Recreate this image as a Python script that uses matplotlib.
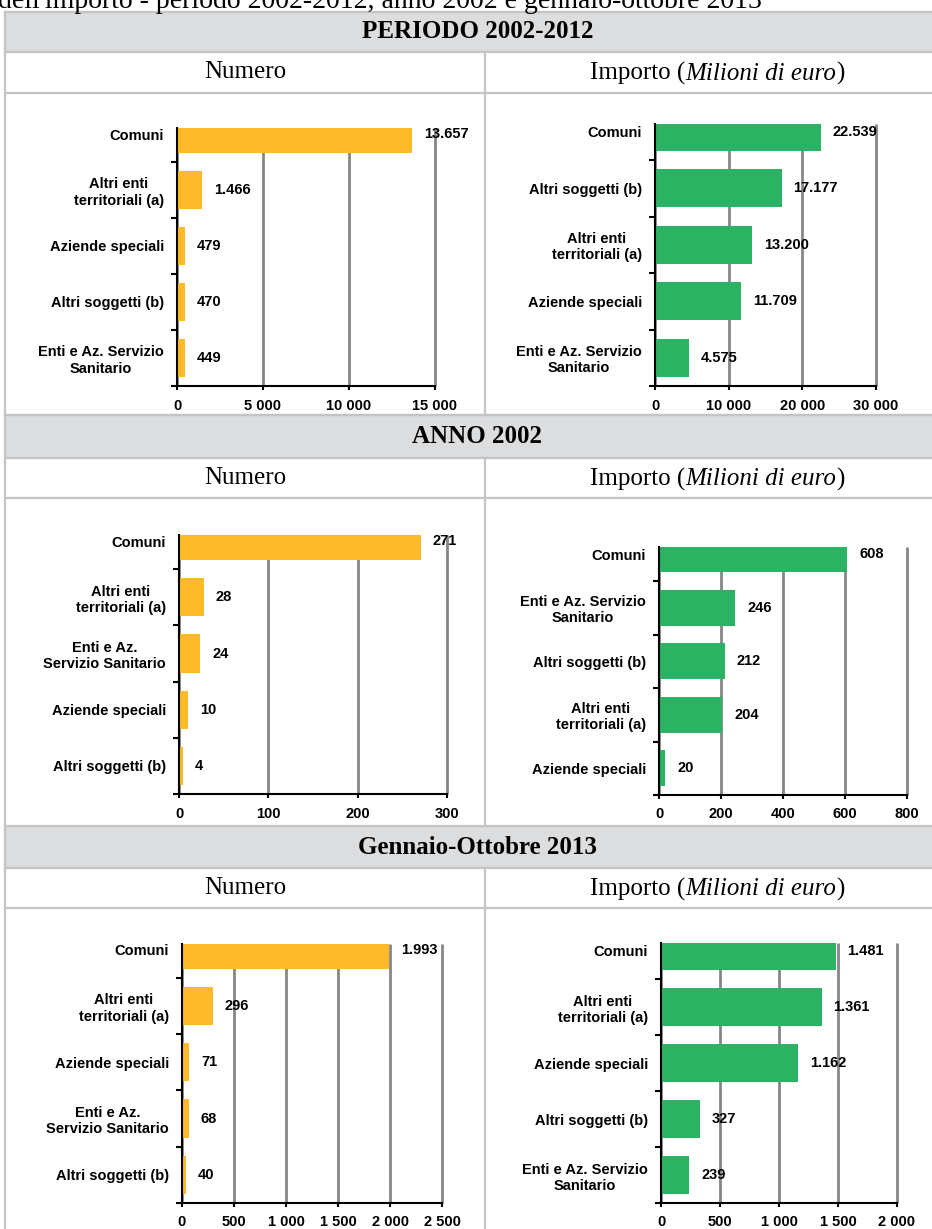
import matplotlib
matplotlib.use("Agg")
import matplotlib.pyplot as plt
from matplotlib.offsetbox import TextArea, HPacker, AnnotationBbox

# --- data -------------------------------------------------------------
periodo_num_cat = ["Comuni", "Altri enti\nterritoriali (a)", "Aziende speciali",
                   "Altri soggetti (b)", "Enti e Az. Servizio\nSanitario"]
periodo_num = [13657, 1466, 479, 470, 449]
periodo_num_ticks = [0, 5000, 10000, 15000]

periodo_imp_cat = ["Comuni", "Altri soggetti (b)", "Altri enti\nterritoriali (a)",
                   "Aziende speciali", "Enti e Az. Servizio\nSanitario"]
periodo_imp = [22539, 17177, 13200, 11709, 4575]
periodo_imp_ticks = [0, 10000, 20000, 30000]

anno_num_cat = ["Comuni", "Altri enti\nterritoriali (a)", "Enti e Az.\nServizio Sanitario",
                "Aziende speciali", "Altri soggetti (b)"]
anno_num = [271, 28, 24, 10, 4]
anno_num_ticks = [0, 100, 200, 300]

anno_imp_cat = ["Comuni", "Enti e Az. Servizio\nSanitario", "Altri soggetti (b)",
                "Altri enti\nterritoriali (a)", "Aziende speciali"]
anno_imp = [608, 246, 212, 204, 20]
anno_imp_ticks = [0, 200, 400, 600, 800]

ott_num_cat = ["Comuni", "Altri enti\nterritoriali (a)", "Aziende speciali",
               "Enti e Az.\nServizio Sanitario", "Altri soggetti (b)"]
ott_num = [1993, 296, 71, 68, 40]
ott_num_ticks = [0, 500, 1000, 1500, 2000, 2500]

ott_imp_cat = ["Comuni", "Altri enti\nterritoriali (a)", "Aziende speciali",
               "Altri soggetti (b)", "Enti e Az. Servizio\nSanitario"]
ott_imp = [1481, 1361, 1162, 327, 239]
ott_imp_ticks = [0, 500, 1000, 1500, 2000]

section_titles = ["PERIODO 2002-2012", "ANNO 2002", "Gennaio-Ottobre 2013"]

# --- style ------------------------------------------------------------
W, H = 932, 1229
num_color = "#fcb928"
imp_color = "#2bb262"
grid_color = "#86868a"
line_color = "#c4c4c4"
head_fill = "#dcdddf"
serif = "Liberation Serif"

plt.rcParams["font.family"] = ["Liberation Sans", "DejaVu Sans"]
plt.rcParams["font.weight"] = "bold"
plt.rcParams["font.size"] = 10.5


def fmt_tick(v):
    return f"{v:,}".replace(",", " ")


def fmt_val(v):
    return f"{v:,}".replace(",", ".")


fig = plt.figure(figsize=(W / 100, H / 100), dpi=100)

# table drawn in pixel coordinates
bg = fig.add_axes([0, 0, 1, 1])
bg.set_xlim(0, W)
bg.set_ylim(H, 0)
bg.axis("off")

bg.text(-2, 8, "dell'importo - periodo 2002-2012, anno 2002 e gennaio-ottobre 2013",
        family=serif, weight="normal", size=20, ha="left", va="baseline")

# (header top, header bottom, subheader bottom, section bottom)
rows = [(12, 52, 93, 415), (415, 458, 498, 826), (826, 868, 908, H + 5)]
x0, xdiv, x1 = 5, 485, 950

for (ht, hb, sb, end), title in zip(rows, section_titles):
    bg.add_patch(plt.Rectangle((x0, ht), x1 - x0, hb - ht, facecolor=head_fill,
                               edgecolor="none", zorder=0))
    for yy in (ht, hb, sb):
        bg.plot([x0, x1], [yy, yy], color=line_color, lw=1.6, zorder=1)
    bg.plot([xdiv, xdiv], [hb, end], color=line_color, lw=1.6, zorder=1)
    bg.text((x0 + x1) / 2, (ht + hb) / 2, title, family=serif, weight="bold",
            size=18, ha="center", va="center")
    bg.text((x0 + xdiv) / 2, (hb + sb) / 2, "Numero", family=serif,
            weight="normal", size=18, ha="center", va="center")
    tp = dict(family=serif, weight="normal", size=18)
    box = HPacker(children=[TextArea("Importo (", textprops=tp),
                            TextArea("Milioni di euro", textprops=dict(tp, style="italic")),
                            TextArea(")", textprops=tp)],
                  sep=0, pad=0, align="baseline")
    bg.add_artist(AnnotationBbox(box, ((xdiv + x1) / 2, (hb + sb) / 2 + 1),
                                 frameon=False, box_alignment=(0.5, 0.5), pad=0))

bg.plot([x0, x0], [12, H + 5], color=line_color, lw=1.6, zorder=1)
bg.plot([x0, x1], [415, 415], color=line_color, lw=1.6, zorder=1)


def draw_panel(box, cats, vals, ticks, color, slot):
    left, top, right, bottom = box
    ax = fig.add_axes([left / W, 1 - bottom / H, (right - left) / W, (bottom - top) / H])
    ax.set_facecolor("none")
    pos = list(range(len(cats)))
    ax.barh(pos, vals, height=0.68, color=color, zorder=2)
    for p, v in zip(pos, vals):
        ax.annotate(fmt_val(v), (v, p), xytext=(8.5, 0), textcoords="offset points",
                    ha="left", va="center", fontsize=10.5, fontweight="bold", zorder=4)
    ax.set_xlim(0, ticks[-1])
    ax.set_ylim(4.5, 4.5 - (bottom - top) / slot)
    ax.set_xticks(ticks)
    ax.set_xticklabels([fmt_tick(t) for t in ticks])
    ax.set_yticks(pos)
    ax.set_yticklabels(cats, multialignment="center")
    ax.set_yticks([p + 0.5 for p in pos], minor=True)
    ax.tick_params(axis="y", which="major", length=0, pad=9.5)
    ax.tick_params(axis="y", which="minor", length=4, width=1.5, direction="out")
    ax.tick_params(axis="x", length=3, width=1.5, pad=6)
    ax.grid(axis="x", color=grid_color, lw=2)
    ax.set_axisbelow(True)
    # keep the last gridline at full width on the plot edge
    for gl in ax.get_xgridlines():
        gl.set_clip_on(False)
        gl.set_solid_capstyle("butt")
    for s in ("top", "right"):
        ax.spines[s].set_visible(False)
    for s in ("left", "bottom"):
        ax.spines[s].set_linewidth(1.5)
        ax.spines[s].set_color("black")
    return ax


# panel boxes in pixels: left, top, right, bottom, slot height
draw_panel((177, 128, 435, 386), periodo_num_cat, periodo_num, periodo_num_ticks, num_color, 56)
draw_panel((655, 124, 876, 386), periodo_imp_cat, periodo_imp, periodo_imp_ticks, imp_color, 56.5)
draw_panel((179, 535, 447, 794), anno_num_cat, anno_num, anno_num_ticks, num_color, 56.2)
draw_panel((659, 547, 907, 795), anno_imp_cat, anno_imp, anno_imp_ticks, imp_color, 53.5)
draw_panel((182, 944, 442, 1203), ott_num_cat, ott_num, ott_num_ticks, num_color, 56.3)
draw_panel((661, 943, 897, 1203), ott_imp_cat, ott_imp, ott_imp_ticks, imp_color, 56)

fig.savefig("out.png", dpi=100, facecolor="white")
